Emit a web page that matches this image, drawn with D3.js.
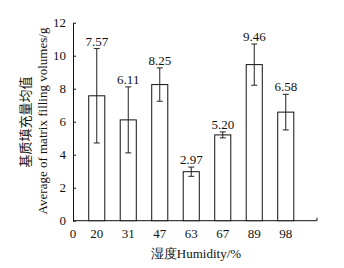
<!DOCTYPE html>
<html>
<head>
<meta charset="utf-8">
<script src="https://cdn.jsdelivr.net/npm/d3@7"></script>
<style>
  body { margin: 0; background: #fff; }
  text { font-family: "Liberation Serif", "Times New Roman", serif; fill: #111; }
</style>
</head>
<body>
<script>
// chart size
const width = 344;
const height = 268;

// data
const humidity = ["20", "31", "47", "63", "67", "89", "98"];
const means = [7.57, 6.11, 8.25, 2.97, 5.20, 9.46, 6.58];
const errors = [2.86, 2.0, 1.01, 0.28, 0.18, 1.25, 1.08];
const yTicks = [0, 2, 4, 6, 8, 10, 12];

const svg = d3.select("body").append("svg")
    .attr("width", width)
    .attr("height", height);

// scales
const xscale = d3.scaleBand()
    .domain(humidity)
    .range([81, 301.5])
    .paddingInner(0.49)
    .paddingOuter(0.245);

const yscale = d3.scaleLinear()
    .domain([0, 12])
    .range([220.7, 22.7]);

// y axis, ticks inward
const y_axis = svg.append("g")
    .attr("transform", "translate(73,0)")
    .call(d3.axisLeft(yscale).tickValues(yTicks).tickSizeInner(-3).tickSizeOuter(0).tickPadding(7));
y_axis.select(".domain").attr("stroke", "#111");
y_axis.selectAll(".tick line").attr("stroke", "#111");
y_axis.selectAll("text").style("font-size", "13px").attr("fill", "#111");

// x axis line
svg.append("line")
    .attr("x1", 73).attr("x2", 317)
    .attr("y1", yscale(0)).attr("y2", yscale(0))
    .attr("stroke", "#111");
svg.append("line")
    .attr("x1", 317).attr("x2", 317)
    .attr("y1", yscale(0)).attr("y2", yscale(0) - 3)
    .attr("stroke", "#111");

// x labels (0 at the origin plus categories)
svg.append("text")
    .attr("x", 73).attr("y", 238)
    .attr("text-anchor", "middle")
    .style("font-size", "13px")
    .text("0");
svg.append("g").selectAll("text")
    .data(humidity)
    .join("text")
    .attr("x", d => xscale(d) + xscale.bandwidth() / 2)
    .attr("y", 238)
    .attr("text-anchor", "middle")
    .style("font-size", "13px")
    .text(d => d);

// bars
const bars = svg.append("g").selectAll("g")
    .data(humidity.map((h, i) => ({h: h, m: means[i], e: errors[i]})))
    .join("g");

bars.append("rect")
    .attr("x", d => xscale(d.h))
    .attr("y", d => yscale(d.m))
    .attr("width", xscale.bandwidth())
    .attr("height", d => yscale(0) - yscale(d.m))
    .attr("fill", "#fff")
    .attr("stroke", "#111")
    .attr("stroke-width", 1);

// error bars
const cx = d => xscale(d.h) + xscale.bandwidth() / 2;
bars.append("line")
    .attr("x1", cx).attr("x2", cx)
    .attr("y1", d => yscale(d.m + d.e))
    .attr("y2", d => yscale(d.m - d.e))
    .attr("stroke", "#222");
bars.append("line")
    .attr("x1", d => cx(d) - 3).attr("x2", d => cx(d) + 3)
    .attr("y1", d => yscale(d.m + d.e)).attr("y2", d => yscale(d.m + d.e))
    .attr("stroke", "#222");
bars.append("line")
    .attr("x1", d => cx(d) - 3).attr("x2", d => cx(d) + 3)
    .attr("y1", d => yscale(d.m - d.e)).attr("y2", d => yscale(d.m - d.e))
    .attr("stroke", "#222");

// value labels
bars.append("text")
    .attr("x", cx)
    .attr("y", d => yscale(d.m + d.e) - 3)
    .attr("text-anchor", "middle")
    .style("font-size", "13px")
    .text(d => d.m.toFixed(2));

// y title, two lines
svg.append("text")
    .attr("transform", "translate(30,122) rotate(-90)")
    .attr("text-anchor", "middle")
    .style("font-size", "13px")
    .style("font-family", "'Noto Sans CJK SC', sans-serif")
    .text("基质填充量均值");
svg.append("text")
    .attr("transform", "translate(47,121) rotate(-90)")
    .attr("text-anchor", "middle")
    .style("font-size", "13px")
    .text("Average of matrix filling volumes/g");

// x title
svg.append("text")
    .attr("x", 196).attr("y", 258)
    .attr("text-anchor", "middle")
    .style("font-size", "13px")
    .text("湿度Humidity/%");
</script>
</body>
</html>
